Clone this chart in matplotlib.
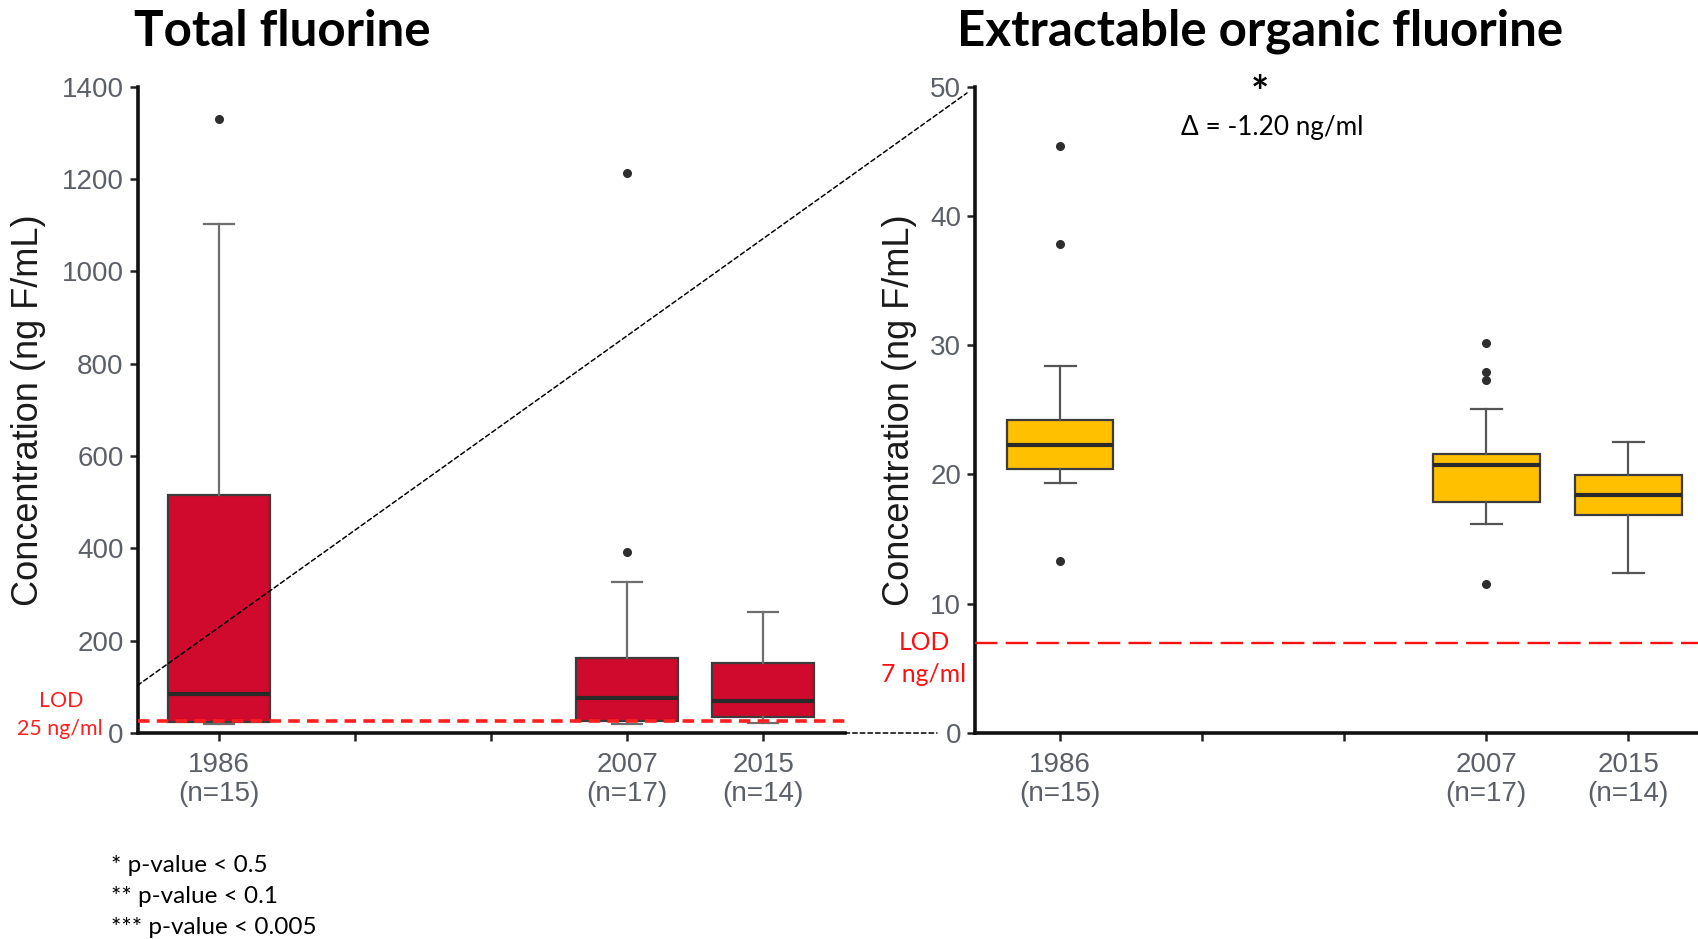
import matplotlib
matplotlib.use("Agg")
import matplotlib.pyplot as plt
from matplotlib.patches import ConnectionPatch

# ---- data -------------------------------------------------------------
year_slots = ["1986", "", "", "2007", "2015"]          # category axis (two empty slots)
years = ["1986", "2007", "2015"]
n_samples = [15, 17, 14]

# Total fluorine (ng F/mL)
tf_whislo = [20, 20, 22]
tf_q1 = [23, 27, 35]
tf_med = [84, 75, 70]
tf_q3 = [516, 162, 152]
tf_whishi = [1102, 328, 262]
tf_fliers = [[1329], [1212, 392], []]
tf_lod = 25

# Extractable organic fluorine (ng F/mL)
eof_whislo = [19.35, 16.2, 12.4]
eof_q1 = [20.4, 17.85, 16.85]
eof_med = [22.3, 20.75, 18.4]
eof_q3 = [24.2, 21.6, 19.95]
eof_whishi = [28.35, 25.05, 22.5]
eof_fliers = [[45.4, 37.85, 13.3], [30.2, 27.9, 27.3, 11.5], []]
eof_lod = 7

tf_ticks = [0, 200, 400, 600, 800, 1000, 1200, 1400]
eof_ticks = [0, 10, 20, 30, 40, 50]

footnotes = ["* p-value < 0.5", "** p-value < 0.1", "*** p-value < 0.005"]

# ---- figure -----------------------------------------------------------
W, H = 1698, 939
fig = plt.figure(figsize=(W / 100, H / 100), dpi=100)

def fx(px):
    return px / W

def fy(py):
    return 1 - py / H

top_px, bot_px = 86.6, 733.0
ax1 = fig.add_axes([fx(137.5), fy(bot_px), fx(845 - 137.5), (bot_px - top_px) / H])
ax2 = fig.add_axes([fx(975), fy(bot_px), fx(W - 975), (bot_px - top_px) / H])

TICK_COL = "#5b6068"
LABEL_COL = "#1a1a1a"
slot_pos = {lab: i + 1 for i, lab in enumerate(year_slots) if lab}
positions = [slot_pos[y] for y in years]
n_by_year = dict(zip(years, n_samples))
xlabels = [f"{y}\n(n={n_by_year[y]})" if y else "" for y in year_slots]


def make_stats(lo, q1, med, q3, hi, fl):
    return [dict(whislo=a, q1=b, med=c, q3=d, whishi=e, fliers=f, label=y)
            for a, b, c, d, e, f, y in zip(lo, q1, med, q3, hi, fl, years)]


def draw_boxes(ax, stats, face, whisk_col):
    ax.bxp(stats, positions=positions, widths=0.75, capwidths=0.22,
           patch_artist=True, showfliers=True,
           boxprops=dict(facecolor=face, edgecolor="#3c3c3c", linewidth=1.6),
           medianprops=dict(color="#2a2a2a", linewidth=3),
           whiskerprops=dict(color=whisk_col, linewidth=1.6),
           capprops=dict(color=whisk_col, linewidth=1.6),
           flierprops=dict(marker="o", markersize=5.5, markerfacecolor="#2e2e2e",
                           markeredgecolor="#2e2e2e"))


def style_axes(ax, yticks, xlim):
    for s in ("top", "right"):
        ax.spines[s].set_visible(False)
    for s in ("left", "bottom"):
        ax.spines[s].set_linewidth(2.6)
        ax.spines[s].set_color("#111111")
    ax.set_yticks(yticks)
    ax.set_yticklabels([str(t) for t in yticks])
    ax.set_xticks(range(1, len(year_slots) + 1))
    ax.set_xticklabels(xlabels, linespacing=1.12)
    ax.set_xlim(*xlim)
    ax.set_ylim(yticks[0], yticks[-1])
    ax.tick_params(axis="both", length=6, width=1.8, color="#222222",
                   labelsize=20, labelcolor=TICK_COL, pad=4)
    ax.tick_params(axis="x", pad=8)
    for lab in ax.get_xticklabels() + ax.get_yticklabels():
        lab.set_family("Liberation Sans")
    ax.set_ylabel("Concentration (ng F/mL)", fontsize=26, color=LABEL_COL,
                  family="Liberation Sans")
    ax.patch.set_visible(False)


# left panel: total fluorine
draw_boxes(ax1, make_stats(tf_whislo, tf_q1, tf_med, tf_q3, tf_whishi, tf_fliers),
           "#CF0A2C", "#6e6e6e")
ax1.axhline(tf_lod, color="#ff1f1f", lw=2.6, ls=(0, (3.2, 2.0)), zorder=5)
style_axes(ax1, tf_ticks, (0.4, 5.6))
ax1.yaxis.set_label_coords(fx(46), 0.5 * (fy(top_px) + fy(bot_px)), transform=fig.transFigure)

# right panel: extractable organic fluorine
draw_boxes(ax2, make_stats(eof_whislo, eof_q1, eof_med, eof_q3, eof_whishi, eof_fliers),
           "#FFC000", "#555555")
ax2.axhline(eof_lod, color="#ff1010", lw=1.7, ls=(0, (9.5, 3.5)), zorder=5)
style_axes(ax2, eof_ticks, (0.4, 5.49))
ax2.yaxis.set_label_coords(fx(917), 0.5 * (fy(top_px) + fy(bot_px)), transform=fig.transFigure)

# titles
fig.text(fx(282), fy(31), "Total fluorine", ha="center", va="center",
         fontsize=35.5, fontweight="bold", family="Lato")
fig.text(fx(1260), fy(31), "Extractable organic fluorine", ha="center", va="center",
         fontsize=35.5, fontweight="bold", family="Lato")

# LOD labels
fig.text(fx(61), fy(701), "LOD", ha="center", va="center", color="#ff1f1f",
         fontsize=15.4, family="Lato")
fig.text(fx(60), fy(729), f"{tf_lod} ng/ml", ha="center", va="center", color="#ff1f1f",
         fontsize=15.4, family="Lato")
fig.text(fx(924), fy(642), "LOD", ha="center", va="center", color="#ff1010",
         fontsize=17.8, family="Lato")
fig.text(fx(924), fy(675), f"{eof_lod} ng/ml", ha="center", va="center", color="#ff1010",
         fontsize=17.8, family="Lato")

# significance annotation
fig.text(fx(1260), fy(107), "*", ha="center", va="baseline", fontsize=31,
         fontweight="bold", family="Lato")
fig.text(fx(1272), fy(135), "\u0394 = -1.20 ng/ml", ha="center", va="baseline",
         fontsize=18.8, family="Lato")

# footnotes
for i, t in enumerate(footnotes):
    fig.text(fx(111), fy(865 + 31.5 * i), t, ha="left", va="center",
             fontsize=17.5, family="Lato")

# zoom connectors between the panels
for xyA, xyB in [((0.4, 103), (fx(967), fy(93))), ((5.6, 0), (fx(937), fy(733)))]:
    con = ConnectionPatch(xyA=xyA, coordsA=ax1.transData, xyB=xyB,
                          coordsB=fig.transFigure, color="black", lw=1.1,
                          ls=(0, (3, 2)))
    fig.add_artist(con)

fig.savefig("out.png", dpi=100)
